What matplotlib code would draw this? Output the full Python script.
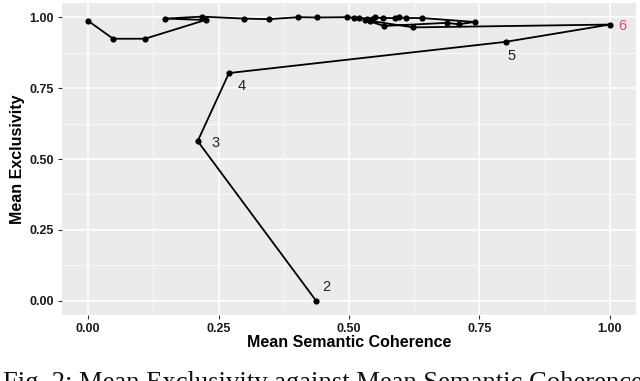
import matplotlib
matplotlib.use("Agg")
import matplotlib.pyplot as plt
from matplotlib.ticker import MultipleLocator

# number of topics (path order) and measured values
topics = list(range(2, 35))
coherence = [0.437, 0.210, 0.270, 0.800, 1.000, 0.623, 0.530, 0.540, 0.567,
             0.687, 0.710, 0.741, 0.639, 0.610, 0.596, 0.588, 0.565, 0.550,
             0.545, 0.535, 0.520, 0.510, 0.496, 0.439, 0.403, 0.347, 0.299,
             0.2175, 0.148, 0.225, 0.109, 0.048, 0.000]
exclusivity = [0.000, 0.563, 0.803, 0.913, 0.974, 0.964, 0.990, 0.985, 0.969,
               0.980, 0.975, 0.983, 0.997, 0.997, 0.999, 0.997, 0.997, 0.999,
               0.992, 0.995, 0.997, 0.998, 1.000, 0.999, 1.000, 0.993, 0.995,
               1.002, 0.995, 0.990, 0.924, 0.924, 0.987]

labelled = [2, 3, 4, 5, 6]
label_offsets = {2: (7, 10), 3: (13, -1), 4: (9, -9), 5: (4, -10), 6: (9, -1)}
highlight = 6

fig = plt.figure(figsize=(6.4, 3.81), dpi=100)
ax = fig.add_axes([62/640, 66/381, (636-62)/640, (381-66-3)/381])
ax.set_facecolor('#EBEBEB')
for s in ax.spines.values():
    s.set_visible(False)

ax.plot(coherence, exclusivity, color='black', lw=1.3, zorder=3)
ax.scatter(coherence, exclusivity, s=20, color='black', zorder=4, linewidths=0)

for k in labelled:
    i = topics.index(k)
    dx, dy = label_offsets[k]
    ax.annotate(str(k), (coherence[i], exclusivity[i]), xytext=(dx, dy),
                textcoords='offset points', ha='center', va='center',
                fontsize=10.5, family='Liberation Sans',
                color='#F0475A' if k == highlight else '#222222', zorder=5)

ax.set_xlim(-0.05, 1.05)
ax.set_ylim(-0.05, 1.05)
ax.xaxis.set_minor_locator(MultipleLocator(0.125))
ax.yaxis.set_minor_locator(MultipleLocator(0.125))
ax.grid(which='major', color='white', lw=1.1, zorder=0)
ax.grid(which='minor', color='white', lw=0.5, zorder=0)
ax.set_axisbelow(True)
ax.set_xticks([0, 0.25, 0.5, 0.75, 1.0])
ax.set_xticklabels(['0.00', '0.25', '0.50', '0.75', '1.00'])
ax.set_yticks([0, 0.25, 0.5, 0.75, 1.0])
ax.set_yticklabels(['0.00', '0.25', '0.50', '0.75', '1.00'])
ax.tick_params(which='major', length=3, width=0.8, color='#333333',
               labelsize=9, labelcolor='#1a1a1a', pad=3)
ax.tick_params(which='minor', length=0)
for lab in ax.get_xticklabels() + ax.get_yticklabels():
    lab.set_fontweight('bold')
    lab.set_family('Liberation Sans')

ax.set_xlabel('Mean Semantic Coherence', fontsize=11.5, fontweight='bold',
              family='Liberation Sans', labelpad=0)
ax.set_ylabel('Mean Exclusivity', fontsize=11.5, fontweight='bold',
              family='Liberation Sans', labelpad=3)

fig.text(3/640, -9/381, 'Fig. 2: Mean Exclusivity against Mean Semantic Coherence',
         family='Liberation Serif', fontsize=19.2, ha='left', va='baseline',
         color='#111111')

fig.savefig('out.png', dpi=100)
